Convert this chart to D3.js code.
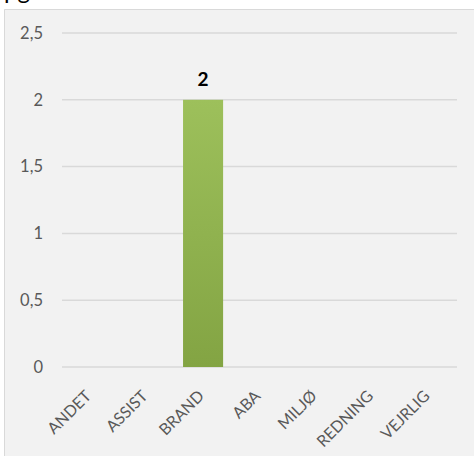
<!DOCTYPE html>
<html>
<head>
<meta charset="utf-8">
<script src="https://cdn.jsdelivr.net/npm/d3@7"></script>
<style>
  html, body { margin: 0; background: #ffffff; overflow: hidden; }
  svg { display: block; }
</style>
</head>
<body>
<div id="chart"></div>
<script>
var categories = ["ANDET", "ASSIST", "BRAND", "ABA", "MILJØ", "REDNING", "VEJRLIG"];
var values = [0, 0, 2, 0, 0, 0, 0];
var yTicks = [0, 0.5, 1, 1.5, 2, 2.5];
var titleText = "pg";

var width = 474, height = 456;
var margin = { top: 33, right: 17, bottom: 89, left: 62 };
var font = "Lato, 'Open Sans', sans-serif";

var svg = d3.select("#chart").append("svg")
    .attr("width", width)
    .attr("height", height);

// title, cut off at the top of the picture
svg.append("text")
    .attr("x", 4)
    .attr("y", -1)
    .attr("font-family", font)
    .attr("font-size", 24)
    .attr("fill", "#000")
    .text(titleText);

// chart area, only left and top border are visible
svg.append("rect")
    .attr("x", 4)
    .attr("y", 9)
    .attr("width", width)
    .attr("height", height)
    .attr("fill", "#f2f2f2");
svg.append("path")
    .attr("d", "M4.5," + height + "V9.5H" + width)
    .attr("fill", "none")
    .attr("stroke", "#d9d9d9")
    .attr("stroke-width", 1);

var grad = svg.append("defs").append("linearGradient")
    .attr("id", "barGrad")
    .attr("x1", 0).attr("y1", 0).attr("x2", 0).attr("y2", 1);
grad.append("stop").attr("offset", "0%").attr("stop-color", "#9dc05b");
grad.append("stop").attr("offset", "100%").attr("stop-color", "#83a443");

var plotW = width - margin.left - margin.right;
var plotH = height - margin.top - margin.bottom;

var g = svg.append("g")
    .attr("transform", "translate(" + margin.left + "," + margin.top + ")");

var x = d3.scaleBand()
    .domain(categories)
    .range([0, plotW])
    .paddingInner(0.29)
    .paddingOuter(0.145);

var y = d3.scaleLinear()
    .domain([0, 2.5])
    .range([plotH, 0]);

var fmt = function(d) { return String(d).replace(".", ","); };

// gridlines
g.append("g")
    .selectAll("line")
    .data(yTicks)
    .enter()
    .append("line")
    .attr("x1", 0)
    .attr("x2", plotW)
    .attr("y1", d => y(d))
    .attr("y2", d => y(d))
    .attr("stroke", "#d9d9d9")
    .attr("stroke-width", 1.5);

var yAxis = d3.axisLeft(y).tickValues(yTicks).tickFormat(fmt).tickSize(0).tickPadding(19);
var yG = g.append("g").call(yAxis);
yG.select(".domain").remove();
yG.selectAll("text")
    .attr("fill", "#595959")
    .attr("font-family", font)
    .attr("font-size", 16.5);

// bars
g.append("g")
    .selectAll("rect")
    .data(values)
    .enter()
    .append("rect")
    .attr("x", (d, i) => x(categories[i]))
    .attr("y", d => y(d))
    .attr("width", x.bandwidth())
    .attr("height", d => plotH - y(d))
    .attr("fill", "url(#barGrad)");

// data labels
g.append("g")
    .selectAll("text")
    .data(values.map((v, i) => ({ v: v, c: categories[i] })).filter(d => d.v > 0))
    .enter()
    .append("text")
    .attr("x", d => x(d.c) + x.bandwidth() / 2)
    .attr("y", d => y(d.v) - 14)
    .attr("text-anchor", "middle")
    .attr("font-family", font)
    .attr("font-weight", "bold")
    .attr("font-size", 19)
    .attr("fill", "#000")
    .text(d => fmt(d.v));

var xAxis = d3.axisBottom(x).tickSize(0).tickPadding(0);
var xG = g.append("g")
    .attr("transform", "translate(0," + plotH + ")")
    .call(xAxis);
xG.select(".domain").remove();
xG.selectAll("text")
    .attr("fill", "#595959")
    .attr("font-family", font)
    .attr("font-size", 16)
    .attr("text-anchor", "end")
    .attr("dy", 0)
    .attr("transform", "translate(2,30) rotate(-45)");
</script>
</body>
</html>
